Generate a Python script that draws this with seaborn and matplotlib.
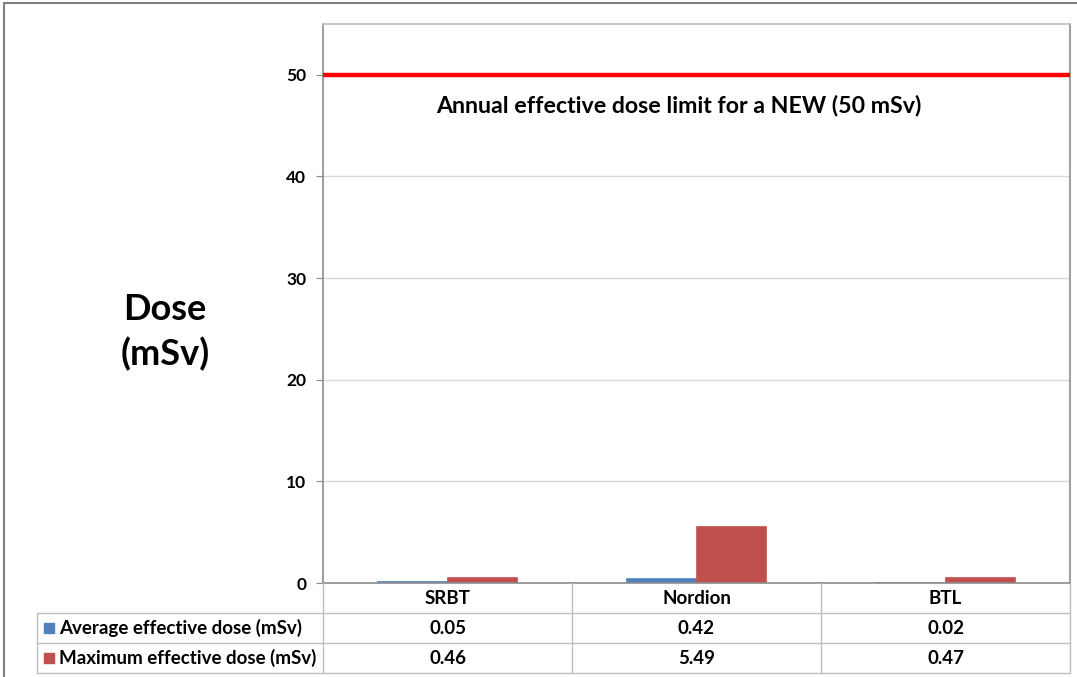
import pandas as pd
import numpy as np
import matplotlib.pyplot as plt
import seaborn as sns
from matplotlib.lines import Line2D

sns.set_style("white")
plt.rcParams["font.family"] = ["Lato", "DejaVu Sans"]
plt.rcParams["text.color"] = "black"
plt.rcParams["ytick.color"] = "black"

# data
sites = ["SRBT", "Nordion", "BTL"]
series = ["Average effective dose (mSv)", "Maximum effective dose (mSv)"]
avg_dose = [0.05, 0.42, 0.02]
max_dose = [0.46, 5.49, 0.47]
dose_limit = 50
limit_label = "Annual effective dose limit for a NEW (50 mSv)"
yticks = [0, 10, 20, 30, 40, 50]
colors = ["#4F81BD", "#C0504D"]

df = pd.DataFrame({
    "site": sites * 2,
    "series": [series[0]] * len(sites) + [series[1]] * len(sites),
    "dose": avg_dose + max_dose,
})

W, H = 1077, 677
fig = plt.figure(figsize=(W / 100, H / 100), dpi=100)

# plot area (pixel box of the reference)
ax = fig.add_axes([323 / W, 1 - 583 / H, (1070 - 323) / W, (583 - 24) / H])
sns.barplot(data=df, x="site", y="dose", hue="series", palette=colors,
            width=0.56, saturation=1, linewidth=0, legend=False, ax=ax)
# Excel keeps tiny bars visible as a thin strip
for patch in ax.patches:
    patch.set_edgecolor(patch.get_facecolor())
    patch.set_linewidth(1.2)
ax.set_xlim(-0.5, len(sites) - 0.5)
ax.set_ylim(0, 55)
ax.set_yticks(yticks)
ax.set_xticks([])
ax.set_xlabel("")
ax.set_ylabel("")
ax.yaxis.grid(True, color="#D9D9D9", lw=1)
ax.set_axisbelow(True)
for side in ["left", "bottom"]:
    ax.spines[side].set_color("#8C8C8C")
ax.spines["top"].set_color("#BFBFBF")
ax.spines["right"].set_color("#8C8C8C")
for sp in ax.spines.values():
    sp.set_linewidth(1.2)
ax.tick_params(axis="y", left=True, length=5, color="#8C8C8C", labelcolor="black",
               pad=7, labelsize=12.5)
for lbl in ax.get_yticklabels():
    lbl.set_fontweight("bold")

ax.axhline(dose_limit, color="#FF0000", lw=3.2, zorder=3)
ax.text(0.476, 0.855, limit_label, transform=ax.transAxes, ha="center", va="center",
        fontsize=16.7, fontweight="bold")

fig.text(165 / W, 1 - 332 / H, "Dose\n(mSv)", ha="center", va="center",
         fontsize=26, fontweight="bold", linespacing=1.4)

# data table under the plot
lab_w = 286 / 249
tax = fig.add_axes([37 / W, 1 - 673 / H, (1070 - 37) / W, 90 / H])
tax.set_xlim(-0.5 - lab_w, len(sites) - 0.5)
tax.set_ylim(3, 0)
tax.axis("off")
gc = "#BFBFBF"
x0 = -0.5 - lab_w
x1 = len(sites) - 0.5
for xb in np.arange(len(sites) + 1) - 0.5:
    tax.plot([xb, xb], [0, 3], color=gc, lw=1, clip_on=False)
tax.plot([x0, x0], [1, 3], color=gc, lw=1, clip_on=False)
for yb in [1, 2, 3]:
    tax.plot([x0, x1], [yb, yb], color=gc, lw=1, clip_on=False)

fs = 13.5
for i, s in enumerate(sites):
    tax.text(i, 0.5, s, ha="center", va="center", fontsize=fs, fontweight="bold")
for r, vals in enumerate([avg_dose, max_dose]):
    for i, v in enumerate(vals):
        tax.text(i, 1.5 + r, f"{v:.2f}", ha="center", va="center",
                 fontsize=fs, fontweight="bold")
    tax.scatter([x0 + 0.048], [1.5 + r], marker="s", s=60, color=colors[r], clip_on=False)
    tax.text(x0 + 0.09, 1.5 + r, series[r], ha="left", va="center",
             fontsize=fs, fontweight="bold")

# outer chart frame
fig.add_artist(Line2D([4 / W, 1], [1 - 3 / H, 1 - 3 / H], transform=fig.transFigure,
                      color="#808080", lw=1.5))
fig.add_artist(Line2D([4 / W, 4 / W], [0, 1 - 3 / H], transform=fig.transFigure,
                      color="#808080", lw=1.5))

fig.savefig("out.png", dpi=100)
